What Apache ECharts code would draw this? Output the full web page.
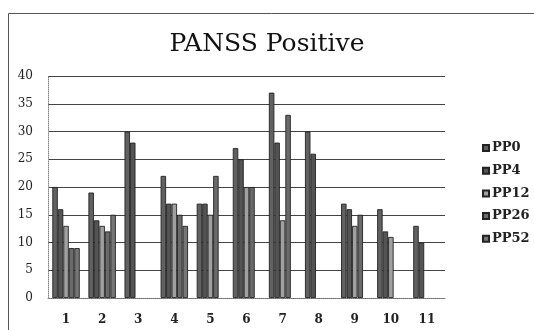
<!DOCTYPE html>
<html>
<head>
<meta charset="utf-8">
<script src="https://cdn.jsdelivr.net/npm/echarts@6/dist/echarts.min.js"></script>
<style>
html,body{margin:0;padding:0;background:#fff;}
#chart{width:534px;height:330px;}
</style>
</head>
<body>
<div id="chart"></div>
<script>
// 数据
var categories = ['1','2','3','4','5','6','7','8','9','10','11'];
var pp0  = [20, 19, 30, 22, 17, 27, 37, 30, 17, 16, 13];
var pp4  = [16, 14, 28, 17, 17, 25, 28, 26, 16, 12, 10];
var pp12 = [13, 13, null, 17, 15, 20, 14, null, 13, 11, null];
var pp26 = [9, 12, null, 15, 22, 20, 33, null, 15, null, null];
var pp52 = [9, 15, null, 13, null, null, null, null, null, null, null];
var seriesNames = ['PP0','PP4','PP12','PP26','PP52'];
var seriesData = [pp0, pp4, pp12, pp26, pp52];
var colors = ['#616161','#545454','#a0a0a0','#6a6a6a','#767676'];

var chart = echarts.init(document.getElementById('chart'));
var FONT = 'DejaVu Serif';

var series = [];
for (var i = 0; i < seriesNames.length; i++) {
	series.push({
		name: seriesNames[i],
		type: 'bar',
		data: seriesData[i],
		barGap: '0%',
		barCategoryGap: '24%',
		itemStyle: {
			color: colors[i],
			borderColor: '#222',
			borderWidth: 0.9
		}
	});
}

var option = {
	animation: false,
	backgroundColor: '#fff',
	title: {
		text: 'PANSS Positive',
		left: 'center',
		top: 27,
		textStyle: {
			fontFamily: FONT,
			fontSize: 25,
			fontWeight: 'normal',
			color: '#111'
		}
	},
	legend: {
		orient: 'vertical',
		left: 477,
		top: 136,
		itemWidth: 6,
		itemHeight: 6,
		itemGap: 8.7,
		icon: 'rect',
		data: seriesNames,
		textStyle: {
			fontFamily: FONT,
			fontSize: 13,
			fontWeight: 'bold',
			lineHeight: 14,
			color: '#222',
			padding: [0, 0, 0, -2]
		}
	},
	grid: {
		left: 48,
		right: 89,
		top: 76,
		bottom: 32,
		containLabel: false
	},
	xAxis: {
		type: 'category',
		data: categories,
		axisTick: {show: false},
		axisLine: {show: true, lineStyle: {color: '#888', type: 'dotted', width: 1}},
		axisLabel: {
			margin: 16,
			fontFamily: FONT,
			fontSize: 12,
			fontWeight: 'bold',
			color: '#222'
		}
	},
	yAxis: {
		type: 'value',
		min: 0,
		max: 40,
		interval: 5,
		axisLine: {show: true, lineStyle: {color: '#888', type: 'dotted', width: 1}},
		axisTick: {show: false},
		axisLabel: {
			margin: 15,
			fontFamily: FONT,
			fontSize: 12,
			color: '#222'
		},
		splitLine: {show: true, lineStyle: {color: '#444', width: 1}}
	},
	graphic: [{
		type: 'rect',
		shape: {x: 8.5, y: 13.5, width: 540, height: 340},
		style: {fill: 'none', stroke: '#555', lineWidth: 1},
		silent: true,
		z: -1
	}],
	series: series
};

chart.setOption(option);
</script>
</body>
</html>
